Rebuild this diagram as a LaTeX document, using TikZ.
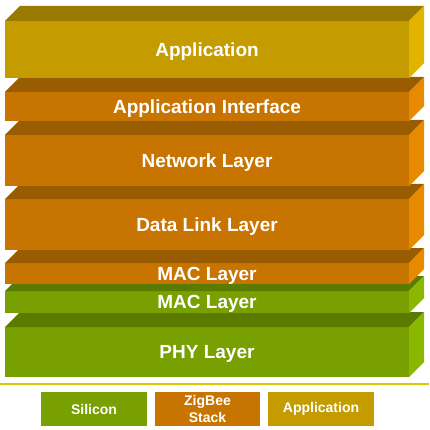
\documentclass[tikz,border=0pt]{standalone}
\usepackage{fontspec}
\setmainfont{Liberation Sans}
\definecolor{goldF}{HTML}{C49C00}
\definecolor{goldT}{HTML}{9A7A00}
\definecolor{goldS}{HTML}{E2B400}
\definecolor{orgF}{HTML}{C87400}
\definecolor{orgT}{HTML}{9A5C00}
\definecolor{orgS}{HTML}{E88A00}
\definecolor{grnF}{HTML}{78A000}
\definecolor{grnT}{HTML}{5A7A00}
\definecolor{grnS}{HTML}{8AB800}
\definecolor{sepC}{HTML}{D8C800}
\newcommand\stackbox[7]{%
  \node[layerbox, fill=#4, minimum height={(#3-#2)*1pt}] (#1) at (5,#2) {#7};
  \fill[#5] (#1.north west) -- (#1.north east) -- ([shift={(15,-15)}]#1.north east) -- ([shift={(15,-15)}]#1.north west) -- cycle;
  \fill[#6] (#1.north east) -- ([shift={(15,-15)}]#1.north east) -- ([shift={(15,-15)}]#1.south east) -- (#1.south east) -- cycle;
}
\begin{document}
\begin{tikzpicture}[x=1pt,y=-1pt,
  layerbox/.style={inner sep=0pt, outer sep=0pt, minimum width=404pt, anchor=north west, text=white, text depth=0pt, font=\bfseries\fontsize{19}{21}\selectfont},
  legendbox/.style={inner sep=0pt, outer sep=0pt, minimum height=34pt, anchor=north west, text=white, align=center, font=\bfseries\fontsize{14}{17}\selectfont},
  sepline/.style={draw=sepC, line width=1.5pt}]
\useasboundingbox (0,0) rectangle (429,430);
\stackbox{phy}{327}{377}{grnF}{grnT}{grnS}{PHY Layer}
\stackbox{macg}{291}{313}{grnF}{grnT}{grnS}{MAC Layer}
\stackbox{maco}{263}{284}{orgF}{orgT}{orgS}{MAC Layer}
\stackbox{dl}{199}{250}{orgF}{orgT}{orgS}{Data Link Layer}
\stackbox{net}{135}{186}{orgF}{orgT}{orgS}{Network Layer}
\stackbox{ai}{92}{121}{orgF}{orgT}{orgS}{Application Interface}
\stackbox{app}{21}{78}{goldF}{goldT}{goldS}{Application}
\coordinate (sepL) at (0,384);
\coordinate (sepR) at (429,384);
\draw[sepline] (sepL) -- (sepR);
\node[legendbox, fill=grnF, minimum width=106pt] (lsil) at (41,392) {Silicon};
\node[legendbox, fill=orgF, minimum width=105pt] (lzig) at (155,392) {ZigBee\\Stack};
\node[legendbox, fill=goldF, minimum width=106pt] (lapp) at (268,392) {Application};
\end{tikzpicture}
\end{document}
